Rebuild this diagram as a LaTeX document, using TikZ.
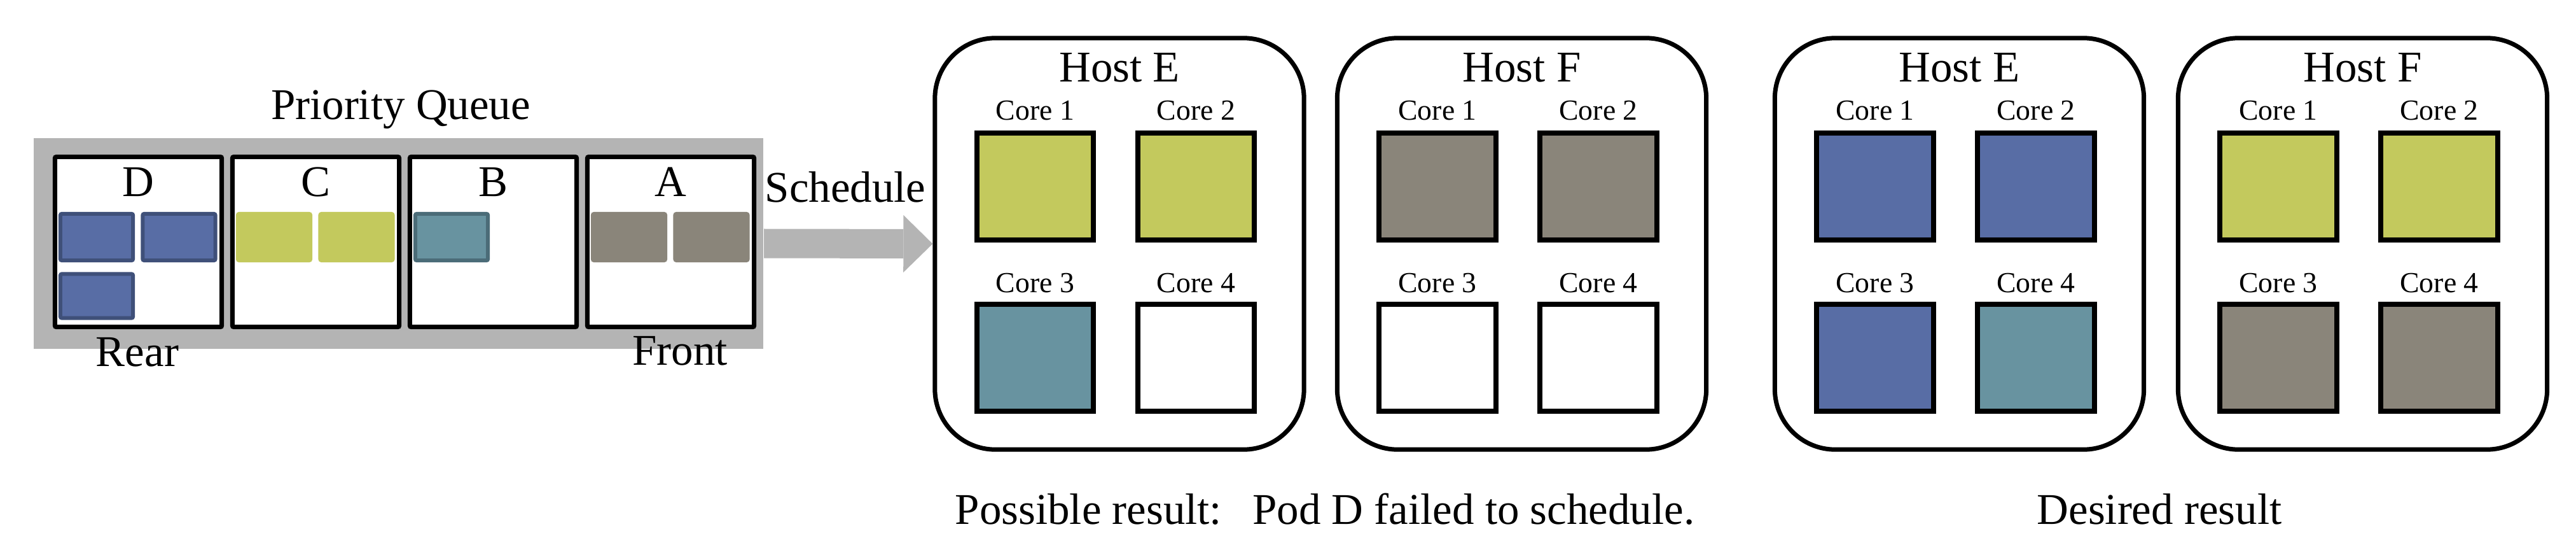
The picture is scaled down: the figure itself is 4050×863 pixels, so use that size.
\documentclass[tikz,border=0pt]{standalone}
\usepackage{fontspec}
\setmainfont{Liberation Serif}
\usetikzlibrary{arrows.meta}
\definecolor{podblue}{HTML}{586DA5}
\definecolor{podblueD}{HTML}{3F5079}
\definecolor{podyel}{HTML}{C3C95D}
\definecolor{podteal}{HTML}{6893A0}
\definecolor{podtealD}{HTML}{4B6C78}
\definecolor{podgray}{HTML}{8A857A}
\definecolor{qgray}{HTML}{B4B4B4}
\newcommand\mkhost[7]{%
  \node[hostbox] (#1) at (#2,383) {};
  \node[lbl] (#1t) at (#2,128) {#3};
  \node[core, fill=#4] (#1c1) at ({#2-132.5},293) {};
  \node[core, fill=#5] (#1c2) at ({#2+120.5},293) {};
  \node[core, fill=#6] (#1c3) at ({#2-132.5},562) {};
  \node[core, fill=#7] (#1c4) at ({#2+120.5},562) {};
  \node[corelbl] (#1l1) at ({#2-132.5},188) {Core 1};
  \node[corelbl] (#1l2) at ({#2+120.5},188) {Core 2};
  \node[corelbl] (#1l3) at ({#2-132.5},459) {Core 3};
  \node[corelbl] (#1l4) at ({#2+120.5},459) {Core 4};
}
\begin{document}
\begin{tikzpicture}[x=0.01cm,y=-0.01cm,
  lbl/.style={inner sep=0pt, anchor=base, font=\fontsize{19.6pt}{23pt}\selectfont},
  corelbl/.style={inner sep=0pt, anchor=base, font=\fontsize{13pt}{15pt}\selectfont},
  qbg/.style={fill=qgray, minimum width=11.47cm, minimum height=3.31cm, inner sep=0pt},
  qbox/.style={draw, fill=white, line width=0.07cm, minimum width=2.62cm, minimum height=2.67cm, inner sep=0pt, rounded corners=0.02cm},
  pod/.style={line width=0.06cm, rounded corners=0.02cm, minimum width=1.14cm, minimum height=0.73cm, inner sep=0pt},
  podD/.style={pod, draw=podblueD, fill=podblue},
  podC/.style={pod, draw=podyel, fill=podyel},
  podB/.style={pod, draw=podtealD, fill=podteal},
  podA/.style={pod, draw=podgray, fill=podgray},
  hostbox/.style={draw, fill=white, line width=0.07cm, rounded corners=0.95cm, minimum width=5.8cm, minimum height=6.46cm, inner sep=0pt},
  core/.style={draw, line width=0.08cm, minimum width=1.83cm, minimum height=1.68cm, inner sep=0pt},
  sched/.style={draw=qgray, line width=0.46cm, -{Triangle[length=0.46cm, width=0.9cm, line width=0pt, fill=qgray]}},
]
\useasboundingbox (0,0) rectangle (4050,863);
% priority queue
\node[lbl] (pqt) at (630,187) {Priority Queue};
\node[qbg] (qbg) at (626.5,382.5) {};
\node[qbox] (qD) at (217.5,380) {};
\node[qbox] (qC) at (496.5,380) {};
\node[qbox] (qB) at (775.5,380) {};
\node[qbox] (qA) at (1054.5,380) {};
\node[lbl] (tD) at (217.5,308) {D};
\node[lbl] (tC) at (496.5,308) {C};
\node[lbl] (tB) at (775.5,308) {B};
\node[lbl] (tA) at (1054.5,308) {A};
\node[podD] (d1) at (152,372.5) {};
\node[podD] (d2) at (281.5,372.5) {};
\node[podD, minimum height=0.69cm] (d3) at (152,465) {};
\node[podC] (c1) at (431,372.5) {};
\node[podC] (c2) at (560.5,372.5) {};
\node[podB] (b1) at (710,372.5) {};
\node[podA] (a1) at (989,372.5) {};
\node[podA] (a2) at (1118.5,372.5) {};
\node[lbl] (rear) at (216,575) {Rear};
\node[lbl] (front) at (1069,573) {Front};
% hosts
\mkhost{hEa}{1760}{Host E}{podyel}{podyel}{podteal}{white}
\mkhost{hFa}{2392.5}{Host F}{podgray}{podgray}{white}{white}
\mkhost{hEb}{3080.5}{Host E}{podblue}{podblue}{podblue}{podteal}
\mkhost{hFb}{3714.5}{Host F}{podyel}{podyel}{podgray}{podgray}
% schedule arrow
\draw[sched] (qbg.east) -- (hEa.west);
\node[lbl] (schedt) at (1329,317) {Schedule};
% captions
\node[lbl] (res1) at (2083,823) {Possible result:\hspace{0.7em}Pod D failed to schedule.};
\node[lbl] (res2) at (3395,823) {Desired result};
\end{tikzpicture}
\end{document}
